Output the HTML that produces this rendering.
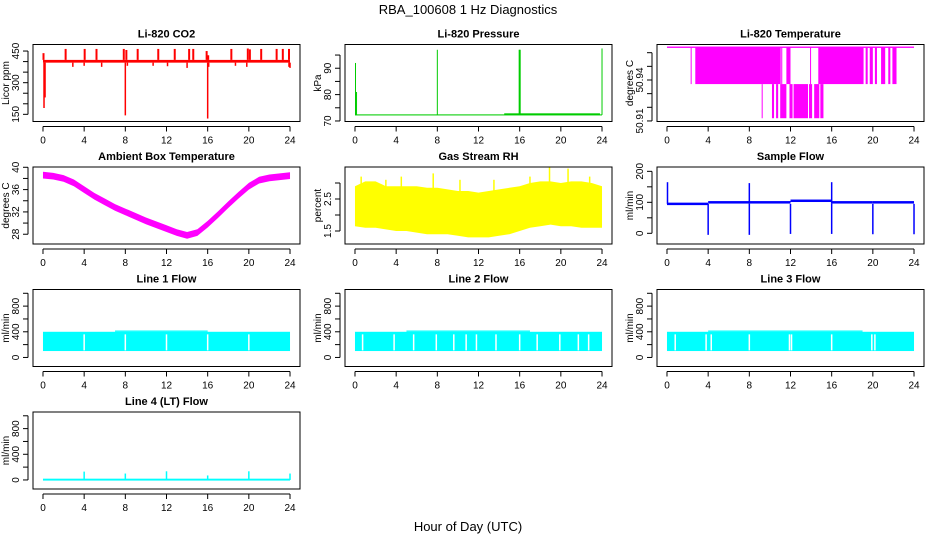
<!DOCTYPE html>
<html><head><meta charset="utf-8"><style>
html,body{margin:0;padding:0;background:#fff;}
svg text{font-family:"Liberation Sans",sans-serif;fill:#000;}
</style></head><body>
<svg id="c" width="936" height="540" xmlns="http://www.w3.org/2000/svg">
<text x="468" y="14" text-anchor="middle" font-size="13">RBA_100608  1 Hz Diagnostics</text>
<text x="468" y="531" text-anchor="middle" font-size="13">Hour of Day (UTC)</text>
</svg>
<script>
// ---------- data ----------
const xTicks=[0,4,8,12,16,20,24];
const co2Base=[395,408];
const co2UpHours=[0.05,2.2,4.05,5.2,7.85,8.1,9.2,11.2,12.8,14.2,14.6,15.9,16.05,18.3,19.9,20.1,21.2,22.7,23.3,23.9];
const co2UpVals=[440,460,460,460,460,455,460,460,460,460,460,450,430,460,462,458,460,460,460,460];
const co2DownHours=[0.1,0.2,2.9,4.0,5.7,8.0,8.2,10.7,12.1,14.0,16.0,16.1,18.7,19.8,23.9,24.0];
const co2DownVals=[180,230,375,380,375,145,380,380,378,370,130,375,380,375,375,370];
const presBase=72.3;
const presSpikeHours=[0.05,0.15,8.0,15.95,16.0,16.05,24.0];
const presSpikeVals=[92,81,97,97,97,97,97.5];
const tempTop=50.964, tempMid=50.937, tempLow=50.912;
const tempMidStart=[2.3,2.75,11.1,11.6,13.9,14.7,19.3,19.7,20.2,20.8,21.5,21.9];
const tempMidEnd=[2.35,11.05,11.2,12.0,13.95,19.1,19.5,20.0,20.4,21.2,21.7,22.3];
const tempLowStart=[9.2,10.2,10.6,11.0,11.9,12.3,13.8,14.3,14.9];
const tempLowEnd=[9.25,10.4,10.8,11.6,12.2,13.7,14.1,14.8,15.2];
const ambHours=[0,1,2,3,4,5,6,7,8,9,10,11,12,13,14,15,16,17,18,19,20,21,22,23,24];
const ambMean=[38.6,38.4,38.0,37.2,36.0,34.8,33.8,32.8,32.0,31.2,30.4,29.7,29.0,28.3,27.8,28.3,29.8,31.5,33.3,35.0,36.6,37.7,38.1,38.3,38.5];
const rhHours=[0,1,2,3,4,5,6,7,8,9,10,11,12,13,14,15,16,17,18,19,20,21,22,23,24];
const rhHi=[2.9,3.05,3.05,2.9,2.9,2.9,2.9,2.85,2.85,2.8,2.75,2.75,2.7,2.75,2.8,2.85,2.9,3.0,3.05,3.05,3.0,3.05,3.05,3.0,2.9];
const rhLo=[1.65,1.6,1.6,1.55,1.5,1.5,1.45,1.4,1.4,1.4,1.35,1.3,1.3,1.3,1.35,1.4,1.5,1.6,1.65,1.7,1.65,1.65,1.6,1.6,1.6];
const rhSpikeHours=[0.6,3.0,4.5,7.6,10.2,13.5,17.0,18.9,20.7,22.8];
const rhSpikeVals=[3.2,3.1,3.2,3.3,3.1,3.1,3.2,3.5,3.45,3.2];
const sfHours=[0,4,8,12,16,20,24];
const sfLevels=[95,100,100,105,100,100,100];
const sfDipHours=[4,8,12,16,20,24];
const sfDipVals=[-5,-5,-2,-2,-3,-3];
const sfSpikeHours=[0.05,8.0,16.0];
const sfSpikeVals=[165,162,165];
const l1Lo=[100], l1Hi=[400];
const l1Gaps=[4,8,12,16,20];
const l2Gaps=[0.74,3.8,5.7,7.9,9.6,10.8,11.8,13.7,16.0,17.7,19.9,21.7,22.7];
const l3Gaps=[0.8,3.8,4.3,8.0,11.9,12.1,16.0,19.9,20.2];
const l4Lo=[-10], l4Hi=[20];
const l4SpikeHours=[4,8,12,16,20,24];
const l4SpikeVals=[130,100,135,70,135,100];

// ---------- layout ----------
const NS="http://www.w3.org/2000/svg";
const svg=document.getElementById('c');
function mk(tag,a,parent){const e=document.createElementNS(NS,tag);for(const k in a)e.setAttribute(k,a[k]);(parent||svg).appendChild(e);return e;}
function panel(col,row,title,ylab,dom,ticks,labels,name){
  const L=33+312*col, R=L+267, T=44.5+122.5*row, B=T+77;
  const g=mk('g',{});
  
  
  const xs=v=>L+(v+0.97)/25.94*267;
  const ys=v=>B-(v-dom[0])/(dom[1]-dom[0])*77;
  const plot=mk('g',{},g);
  
  
  const fr=mk('rect',{x:L,y:T,width:267,height:77,fill:'none',stroke:'#000','stroke-width':1},g);
  
  
  const t=mk('text',{x:(L+R)/2,y:T-7,'text-anchor':'middle','font-size':11,'font-weight':'bold'},g);
  t.textContent=title;
  
  
  // x axis
  const xa=mk('g',{stroke:'#000','stroke-width':1},g);
  
  
  mk('line',{x1:xs(0),x2:xs(24),y1:B+5,y2:B+5},xa);
  xTicks.forEach(v=>{mk('line',{x1:xs(v),x2:xs(v),y1:B+5,y2:B+10},xa);
    const tx=mk('text',{x:xs(v),y:B+22,'text-anchor':'middle','font-size':10,stroke:'none'},xa);tx.textContent=v;
    
    });
  // y axis
  const ya=mk('g',{stroke:'#000','stroke-width':1},g);
  
  
  mk('line',{x1:L-5,x2:L-5,y1:ys(ticks[0]),y2:ys(ticks[ticks.length-1])},ya);
  ticks.forEach(v=>mk('line',{x1:L-10,x2:L-5,y1:ys(v),y2:ys(v)},ya));
  labels.forEach(v=>{const y=ys(v);const tx=mk('text',{x:L-14,y:y,'text-anchor':'middle','font-size':10,stroke:'none',transform:`rotate(-90 ${L-14} ${y})`},ya);tx.textContent=v;
    
    });
  const yl=mk('text',{x:L-24,y:(T+B)/2,'text-anchor':'middle','font-size':10,transform:`rotate(-90 ${L-24} ${(T+B)/2})`},g);
  yl.textContent=ylab;
  
  
  return {xs,ys,plot};
}
function vline(p,x,y0,y1,c,w){mk('line',{x1:p.xs(x),x2:p.xs(x),y1:p.ys(y0),y2:p.ys(y1),stroke:c,'stroke-width':w||1.2},p.plot);}
function band(p,x0,x1,y0,y1,c){const a=p.xs(x0),b=p.xs(x1);mk('rect',{x:a,y:p.ys(y1),width:Math.max(b-a,1),height:Math.max(p.ys(y0)-p.ys(y1),1),fill:c},p.plot);}

// CO2
let p=panel(0,0,'Li-820 CO2','Licor ppm',[116,481],[150,200,250,300,350,400,450],[150,300,450],'co2');
band(p,0,24,co2Base[0],co2Base[1],'#f00');
co2UpHours.forEach((h,i)=>vline(p,h,co2Base[1],co2UpVals[i],'#f00',2));
co2DownHours.forEach((h,i)=>vline(p,h,co2Base[0],co2DownVals[i],'#f00',1.5));
// Pressure
p=panel(1,0,'Li-820 Pressure','kPa',[69.8,99],[70,75,80,85,90,95],[70,80,90],'pressure');
band(p,0,24,presBase-0.2,presBase+0.2,'#0c0');
band(p,14.5,23.8,presBase,presBase+0.6,'#0c0');
presSpikeHours.forEach((h,i)=>vline(p,h,presBase,presSpikeVals[i],'#0c0',1));
// Li-820 temperature
p=panel(2,0,'Li-820 Temperature','degrees C',[50.9096,50.966],[50.91,50.92,50.93,50.94,50.95,50.96],['50.91','50.94'],'li820-temp');
band(p,0,24,tempTop-0.0005,tempTop+0.0005,'#f0f');
tempMidStart.forEach((s,i)=>band(p,s,tempMidEnd[i],tempMid,tempTop,'#f0f'));
tempLowStart.forEach((s,i)=>band(p,s,tempLowEnd[i],tempLow,tempMid,'#f0f'));
// Ambient
p=panel(0,1,'Ambient Box Temperature','degrees C',[26.25,40.05],[28,30,32,34,36,38,40],[28,32,36,40],'ambient-temp');
{let up=ambHours.map((h,i)=>p.xs(h)+','+p.ys(ambMean[i]+0.6)).join(' ');
 let dn=ambHours.map((h,i)=>p.xs(h)+','+p.ys(ambMean[i]-0.6)).reverse().join(' ');
 mk('polygon',{points:up+' '+dn,fill:'#f0f'},p.plot);}
// RH
p=panel(1,1,'Gas Stream RH','percent',[1.094,3.5],[1.5,2,2.5,3],[1.5,2.5],'rh');
{let up=rhHours.map((h,i)=>p.xs(h)+','+p.ys(rhHi[i])).join(' ');
 let dn=rhHours.map((h,i)=>p.xs(h)+','+p.ys(rhLo[i])).reverse().join(' ');
 mk('polygon',{points:up+' '+dn,fill:'#ff0'},p.plot);}
rhSpikeHours.forEach((h,i)=>vline(p,h,2.5,rhSpikeVals[i],'#ff0',1.5));
// Sample flow
p=panel(2,1,'Sample Flow','ml/min',[-34.5,214],[0,50,100,150,200],[0,100,200],'sample-flow');
for(let i=0;i<sfHours.length-1;i++)band(p,sfHours[i],sfHours[i+1],sfLevels[i]-4,sfLevels[i]+4,'#00f');
sfDipHours.forEach((h,i)=>vline(p,h,sfDipVals[i],95,'#00f',1.5));
sfSpikeHours.forEach((h,i)=>vline(p,h,95,sfSpikeVals[i],'#00f',1.5));
// Line flows
function flow(col,row,title,name,gaps,hi2){
  const q=panel(col,row,title,'ml/min',[-141,1059],[0,200,400,600,800,1000],[0,400,800],name);
  band(q,0,24,l1Lo[0],l1Hi[0],'#0ff');
  band(q,hi2[0],hi2[1],l1Hi[0],l1Hi[0]+20,'#0ff');
  gaps.forEach(h=>vline(q,h,l1Lo[0]+10,l1Hi[0]-40,'#fff',1.5));
  return q;
}
flow(0,2,'Line 1 Flow','line1-flow',l1Gaps,[7,16]);
flow(1,2,'Line 2 Flow','line2-flow',l2Gaps,[5,17]);
flow(2,2,'Line 3 Flow','line3-flow',l3Gaps,[4,19]);
p=panel(0,3,'Line 4 (LT) Flow','ml/min',[-141,1059],[0,200,400,600,800,1000],[0,400,800],'line4-flow');
band(p,0,24,l4Lo[0],l4Hi[0],'#0ff');
l4SpikeHours.forEach((h,i)=>vline(p,h,0,l4SpikeVals[i],'#0ff',1.5));
</script>
</body></html>
